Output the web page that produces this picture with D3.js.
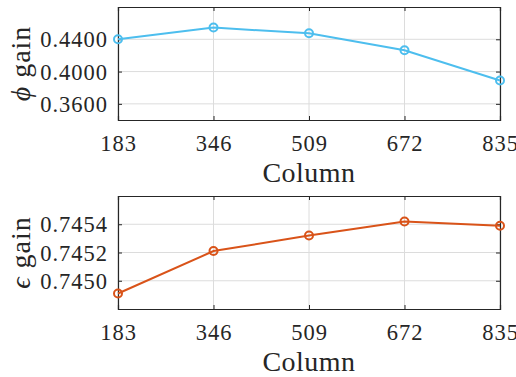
<!DOCTYPE html>
<html>
<head>
<meta charset="utf-8">
<script src="https://cdn.jsdelivr.net/npm/d3@7"></script>
<style>
  body { margin: 0; background: #fff; }
  svg text { font-family: "Liberation Serif", serif; fill: #262626; }
</style>
</head>
<body>
<svg id="chart" width="516" height="377"></svg>
<script>
// data
const columns = [183, 346, 509, 672, 835];
const phiGain = [0.4400, 0.4545, 0.4474, 0.4264, 0.3889];
const epsGain = [0.74491, 0.74521, 0.74532, 0.74542, 0.74539];
const phiTicks = [0.36, 0.40, 0.44];
const epsTicks = [0.7450, 0.7452, 0.7454];

const svg = d3.select('#chart');

function panel(top, bottom, values, yDomain, yTicks, color, ylabel) {
  const left = 118, right = 500;
  const x = d3.scaleLinear().domain([183, 835]).range([left, right]);
  const y = d3.scaleLinear().domain(yDomain).range([bottom, top]);
  const g = svg.append('g');

  // grid
  g.selectAll('.gx').data(columns).join('line')
    .attr('x1', d => x(d)).attr('x2', d => x(d))
    .attr('y1', top).attr('y2', bottom)
    .attr('stroke', '#dcdcdc').attr('stroke-width', 1);
  g.selectAll('.gy').data(yTicks).join('line')
    .attr('x1', left).attr('x2', right)
    .attr('y1', d => y(d)).attr('y2', d => y(d))
    .attr('stroke', '#dcdcdc').attr('stroke-width', 1);

  // axes with inward ticks
  const ax = g.append('g').attr('transform', `translate(0,${bottom})`)
    .call(d3.axisBottom(x).tickValues(columns).tickSize(-4).tickPadding(15).tickFormat(d3.format('d')));
  const axT = g.append('g').attr('transform', `translate(0,${top})`)
    .call(d3.axisTop(x).tickValues(columns).tickSize(-4).tickFormat(''));
  const ay = g.append('g').attr('transform', `translate(${left},0)`)
    .call(d3.axisLeft(y).tickValues(yTicks).tickSize(-4).tickPadding(10).tickFormat(d3.format('.4f')));
  const ayR = g.append('g').attr('transform', `translate(${right},0)`)
    .call(d3.axisRight(y).tickValues(yTicks).tickSize(-4).tickFormat(''));
  [ax, axT, ay, ayR].forEach(a => {
    a.select('.domain').attr('stroke', '#262626').attr('stroke-width', 1.2);
    a.selectAll('.tick line').attr('stroke', '#262626');
    a.selectAll('text').style('font-size', '22.5px').style('letter-spacing', '1px')
      .attr('fill', '#262626');
  });
  ax.selectAll('text').attr('dy', '0.71em');
  ay.selectAll('text').attr('dy', '0.34em');

  // line + markers
  const pts = columns.map((c, i) => [c, values[i]]);
  g.append('path').datum(pts)
    .attr('d', d3.line().x(d => x(d[0])).y(d => y(d[1])))
    .attr('fill', 'none').attr('stroke', color).attr('stroke-width', 2);
  g.selectAll('circle').data(pts).join('circle')
    .attr('cx', d => x(d[0])).attr('cy', d => y(d[1])).attr('r', 4)
    .attr('fill', 'none').attr('stroke', color).attr('stroke-width', 2);

  // labels
  g.append('text').attr('x', 309).attr('y', bottom + 62)
    .attr('text-anchor', 'middle').style('font-size', '28px')
    .style('letter-spacing', '0.5px').text('Column');
  const yl = g.append('text')
    .attr('transform', `translate(30,${(top + bottom) / 2}) rotate(-90)`)
    .attr('text-anchor', 'middle').style('font-size', '28px')
    .style('letter-spacing', '1px');
  yl.append('tspan').style('font-style', 'italic').text(ylabel);
  yl.append('tspan').text(' gain');
}

panel(7, 120, phiGain, [0.34, 0.48], phiTicks, '#4DBEEE', 'ϕ');
panel(196, 309, epsGain, [0.7448, 0.7456], epsTicks, '#D95319', 'ϵ');
</script>
</body>
</html>
